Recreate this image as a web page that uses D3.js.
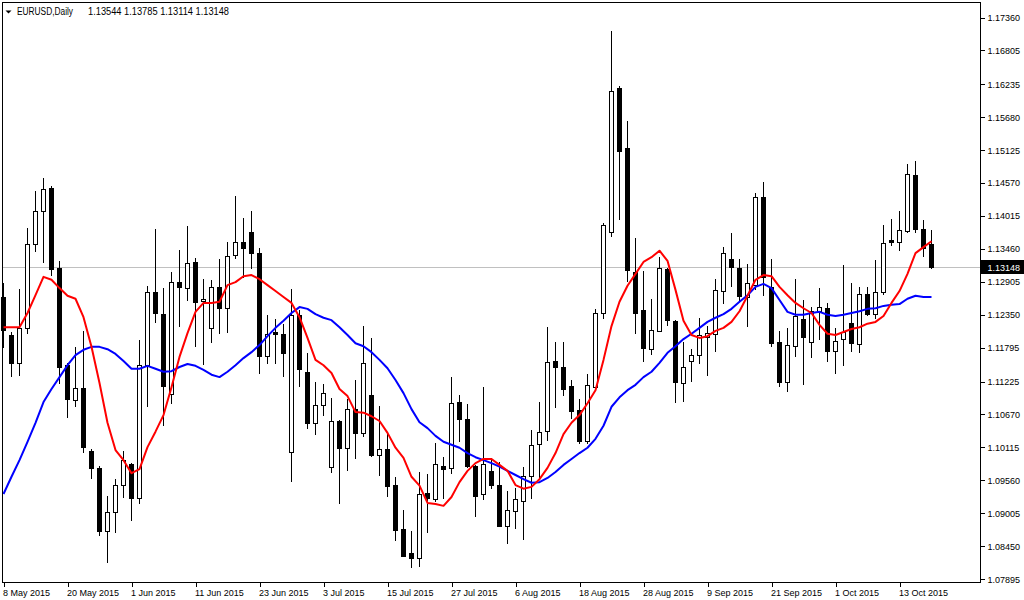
<!DOCTYPE html>
<html><head><meta charset="utf-8">
<script src="https://cdn.jsdelivr.net/npm/d3@7"></script>
<style>
body{margin:0;background:#fff;}
svg{display:block;}
text{font-family:"Liberation Sans",Arial,sans-serif;font-size:9px;fill:#000;}
</style>
</head><body>
<svg id="chart" width="1024" height="600"></svg>
<script>
const symbolName = "EURUSD,Daily";

const opens = [
1.1265,1.1201,1.1154,1.1213,1.1354,1.1410,1.1449,1.1314,1.1150,1.1091,
1.1112,1.1005,1.0977,1.0871,1.0903,1.0948,1.0984,1.0926,1.1150,1.1273,
1.1236,1.1102,1.1290,1.1280,1.1324,1.1258,1.1213,1.1282,1.1246,1.1336,
1.1358,1.1375,1.1339,1.1166,1.1206,1.1203,1.1004,1.1235,1.1139,1.1053,
1.1083,1.0979,1.1056,1.1011,1.1076,1.1036,1.1100,1.0999,1.1009,1.0948,
1.0874,1.0834,1.0825,1.0935,1.0925,1.0980,1.0977,1.1088,1.1059,1.0980,
1.0933,1.0972,1.0948,1.0879,1.0904,1.0921,1.0963,1.1017,1.1039,1.1157,
1.1147,1.1115,1.1075,1.1022,1.1113,1.1238,1.1375,1.1617,1.1516,1.1307,
1.1243,1.1177,1.1208,1.1312,1.1225,1.1120,1.1157,1.1167,1.1198,1.1203,
1.1275,1.1329,1.1314,1.1265,1.1285,1.1434,1.1282,1.1189,1.1122,1.1182,
1.1228,1.1189,1.1241,1.1246,1.1174,1.1194,1.1221,1.1186,1.1270,1.1236,
1.1273,1.1361,1.1358,1.1376,1.1471,1.1380,1.13544];

const highs = [
1.1289,1.1206,1.1279,1.1381,1.1444,1.1466,1.1452,1.1326,1.1154,1.1181,
1.1208,1.1009,1.0980,1.0930,1.0958,1.1005,1.0985,1.1193,1.1284,1.1380,
1.1280,1.1307,1.1344,1.1385,1.1331,1.1295,1.1294,1.1329,1.1358,1.1435,
1.1398,1.1410,1.1348,1.1235,1.1228,1.1220,1.1279,1.1243,1.1171,1.1122,
1.1118,1.1095,1.1058,1.1093,1.1125,1.1216,1.1196,1.1081,1.1036,1.0962,
1.0906,1.0871,1.0970,1.0967,1.1019,1.0995,1.1130,1.1100,1.1085,1.0982,
1.1113,1.0994,1.0987,1.0938,1.0943,1.0979,1.1041,1.1088,1.1214,1.1189,
1.1189,1.1125,1.1093,1.1135,1.1245,1.1390,1.1713,1.1621,1.1562,1.1365,
1.1309,1.1262,1.1332,1.1314,1.1226,1.1189,1.1177,1.1230,1.1216,1.1295,
1.1349,1.1373,1.1329,1.1321,1.1440,1.1459,1.1329,1.1208,1.1213,1.1295,
1.1260,1.1248,1.1280,1.1255,1.1213,1.1319,1.1289,1.1282,1.1282,1.1327,
1.1386,1.1397,1.1410,1.1489,1.1494,1.1395,1.13785];

const lows = [
1.1179,1.1130,1.1132,1.1203,1.1341,1.1322,1.1300,1.1118,1.1061,1.1080,
1.1002,1.0958,1.0862,1.0817,1.0867,1.0926,1.0888,1.0916,1.1080,1.1221,
1.1048,1.1085,1.1214,1.1258,1.1181,1.1150,1.1187,1.1203,1.1204,1.1329,
1.1297,1.1312,1.1135,1.1152,1.1152,1.1130,1.0953,1.1113,1.1043,1.1032,
1.1064,1.0968,1.0916,1.0972,1.0992,1.1029,1.0995,1.0963,1.0928,1.0854,
1.0827,1.0808,1.0810,1.0867,1.0920,1.0925,1.0967,1.1021,1.0977,1.0894,
1.0923,1.0942,1.0877,1.0849,1.0874,1.0856,1.0925,1.0957,1.1022,1.1078,
1.1098,1.1059,1.1017,1.1017,1.1110,1.1228,1.1366,1.1395,1.1290,1.1203,
1.1155,1.1167,1.1207,1.1216,1.1086,1.1088,1.1122,1.1152,1.1132,1.1172,
1.1253,1.1282,1.1258,1.1214,1.1277,1.1267,1.1181,1.1113,1.1105,1.1164,
1.1117,1.1162,1.1193,1.1155,1.1135,1.1149,1.1172,1.1171,1.1233,1.1228,
1.1268,1.1351,1.1343,1.1373,1.1373,1.1332,1.13114];

const closes = [
1.1209,1.1154,1.1213,1.1354,1.1410,1.1447,1.1312,1.1147,1.1093,1.1112,
1.1012,1.0977,1.0871,1.0903,1.0948,1.0990,1.0926,1.1150,1.1273,1.1238,
1.1115,1.1290,1.1282,1.1322,1.1257,1.1262,1.1282,1.1246,1.1334,1.1358,
1.1348,1.1339,1.1166,1.1203,1.1203,1.1171,1.1235,1.1144,1.1053,1.1083,
1.1103,1.1056,1.1011,1.1076,1.1036,1.1154,1.0999,1.1009,1.0947,1.0872,
1.0829,1.0825,1.0933,1.0926,1.0984,1.0975,1.1086,1.1059,1.0980,1.0930,
1.0984,1.0948,1.0879,1.0906,1.0925,1.0963,1.1016,1.1038,1.1155,1.1147,
1.1110,1.1073,1.1022,1.1117,1.1238,1.1386,1.1612,1.1511,1.1311,1.1238,
1.1179,1.1209,1.1314,1.1226,1.1122,1.1147,1.1167,1.1201,1.1204,1.1277,
1.1339,1.1316,1.1267,1.1289,1.1434,1.1299,1.1187,1.1122,1.1184,1.1233,
1.1198,1.1241,1.1248,1.1174,1.1191,1.1206,1.1187,1.1270,1.1236,1.1273,
1.1356,1.1358,1.1378,1.1472,1.1380,1.1348,1.13148];

const maRed = [
1.1214,1.1214,1.1214,1.1238,1.1268,1.1299,1.1294,1.1280,1.1267,1.1262,
1.1231,1.1181,1.1120,1.1053,1.1007,1.0990,1.0968,1.0975,1.1012,1.1038,
1.1066,1.1113,1.1164,1.1204,1.1240,1.1255,1.1255,1.1257,1.1285,1.1290,
1.1300,1.1302,1.1295,1.1285,1.1275,1.1265,1.1255,1.1231,1.1196,1.1159,
1.1150,1.1137,1.1110,1.1098,1.1071,1.1070,1.1064,1.1056,1.1036,1.1011,
1.0994,1.0962,1.0947,1.0918,1.0916,1.0913,1.0928,1.0953,1.0972,1.0985,
1.0992,1.0992,1.0982,1.0972,1.0948,1.0942,1.0945,1.0958,1.0977,1.1002,
1.1034,1.1053,1.1066,1.1086,1.1108,1.1159,1.1216,1.1257,1.1284,1.1304,
1.1324,1.1332,1.1343,1.1326,1.1277,1.1225,1.1201,1.1196,1.1199,1.1208,
1.1213,1.1223,1.1241,1.1267,1.1294,1.1302,1.1300,1.1282,1.1268,1.1255,
1.1246,1.1238,1.1218,1.1203,1.1201,1.1206,1.1211,1.1214,1.1220,1.1223,
1.1233,1.1255,1.1275,1.1304,1.1339,1.1349,1.1359];

const maBlue = [
1.0933,1.0962,1.0990,1.1021,1.1053,1.1088,1.1110,1.1130,1.1150,1.1167,
1.1176,1.1181,1.1181,1.1177,1.1169,1.1157,1.1144,1.1144,1.1149,1.1144,
1.1139,1.1140,1.1147,1.1152,1.1149,1.1142,1.1134,1.1130,1.1139,1.1150,
1.1162,1.1172,1.1184,1.1199,1.1213,1.1225,1.1238,1.1248,1.1245,1.1236,
1.1230,1.1226,1.1214,1.1201,1.1187,1.1182,1.1172,1.1159,1.1145,1.1125,
1.1103,1.1076,1.1054,1.1044,1.1031,1.1021,1.1016,1.1011,1.1002,1.0995,
1.0990,1.0985,1.0979,1.0972,1.0965,1.0958,1.0952,1.0953,1.0960,1.0970,
1.0982,1.0992,1.1002,1.1011,1.1026,1.1048,1.1080,1.1096,1.1108,1.1117,
1.1130,1.1139,1.1154,1.1171,1.1182,1.1194,1.1203,1.1213,1.1223,1.1230,
1.1236,1.1245,1.1257,1.1268,1.1282,1.1287,1.1280,1.1260,1.1240,1.1235,
1.1235,1.1238,1.1240,1.1235,1.1233,1.1235,1.1238,1.1241,1.1245,1.1246,
1.1250,1.1252,1.1253,1.1262,1.1267,1.1265,1.1265];

const dateLabels = ["8 May 2015","20 May 2015","1 Jun 2015","11 Jun 2015","23 Jun 2015","3 Jul 2015",
  "15 Jul 2015","27 Jul 2015","6 Aug 2015","18 Aug 2015","28 Aug 2015","9 Sep 2015",
  "21 Sep 2015","1 Oct 2015","13 Oct 2015"];
const dateLabelBars = [0,8,16,24,32,40,48,56,64,72,80,88,96,104,112];

const priceTicks = [1.17360,1.16805,1.16235,1.15680,1.15125,1.14570,1.14015,1.13460,1.12905,
  1.12350,1.11795,1.11225,1.10670,1.10115,1.09560,1.09005,1.08450,1.07895];

const bars = opens.map((o,i)=>({i, o, h:highs[i], l:lows[i], c:closes[i]}));
const n = bars.length;

const svg = d3.select("#chart");
svg.append("rect").attr("width",1024).attr("height",600).attr("fill","#fff");

const x = d3.scaleLinear().domain([0, n-1]).range([3.5, 3.5 + 8*(n-1)]);
const y = d3.scaleLinear().domain([1.07895, 1.17360]).range([579.15, 17.5]);

// current price line
const last = bars[n-1];
const yc = Math.round(y(last.c)) + 0.5;
svg.append("line").attr("x1",2.5).attr("x2",980.5).attr("y1",yc).attr("y2",yc)
  .attr("stroke","#c0c0c0").attr("stroke-width",1).attr("shape-rendering","crispEdges");

// candles
const g = svg.append("g").attr("shape-rendering","crispEdges");
g.selectAll("line.w").data(bars).join("line").attr("class","w")
  .attr("x1",d=>x(d.i)).attr("x2",d=>x(d.i))
  .attr("y1",d=>y(d.h)).attr("y2",d=>y(d.l))
  .attr("stroke","#000").attr("stroke-width",1);
g.selectAll("rect.b").data(bars).join("rect").attr("class","b")
  .attr("x",d=>x(d.i)-2)
  .attr("width",4)
  .attr("y",d=>Math.round(y(Math.max(d.o,d.c)))+0.5)
  .attr("height",d=>Math.max(1, Math.round(y(Math.min(d.o,d.c))) - Math.round(y(Math.max(d.o,d.c)))))
  .attr("fill",d=>d.c>=d.o ? "#fff" : "#000")
  .attr("stroke","#000").attr("stroke-width",1);

// moving averages
const line = d3.line().x((d,i)=>x(i)).y(d=>y(d));
svg.append("path").datum(maBlue).attr("d",line).attr("fill","none")
  .attr("stroke","#0000ff").attr("stroke-width",2).attr("stroke-linejoin","round");
svg.append("path").datum(maRed).attr("d",line).attr("fill","none")
  .attr("stroke","#ff0000").attr("stroke-width",2).attr("stroke-linejoin","round");

// frame
svg.append("rect").attr("x",2.5).attr("y",2.5).attr("width",978).attr("height",580)
  .attr("fill","none").attr("stroke","#000").attr("stroke-width",1).attr("shape-rendering","crispEdges");

// right price axis
const ay = svg.append("g").attr("transform","translate(980.5,0)")
  .call(d3.axisRight(y).tickValues(priceTicks).tickSize(4).tickPadding(3).tickFormat(d3.format(".5f")));
ay.select(".domain").remove();
ay.attr("font-family",null).attr("font-size",null);
ay.selectAll(".tick line").attr("stroke","#000").attr("shape-rendering","crispEdges");
ay.selectAll(".tick text").attr("fill","#000");

// current price tag
svg.append("rect").attr("x",981).attr("y",yc-7.5).attr("width",43).attr("height",14).attr("fill","#000");
svg.append("text").attr("x",987.5).attr("y",yc).attr("dy","0.35em").style("fill","#fff")
  .text(d3.format(".5f")(last.c));

// bottom time axis
const ax = svg.append("g").attr("transform","translate(0,582.5)")
  .call(d3.axisBottom(x).tickValues(dateLabelBars).tickSize(4).tickPadding(3)
    .tickFormat((d,i)=>dateLabels[i]));
ax.select(".domain").remove();
ax.attr("font-family",null).attr("font-size",null);
ax.selectAll(".tick line").attr("stroke","#000").attr("shape-rendering","crispEdges");
ax.selectAll(".tick text").attr("text-anchor","start").attr("dx",-1).attr("fill","#000");

// header
svg.append("path").attr("d","M5.5,10.5 L11.5,10.5 L8.5,13.5 Z").attr("fill","#000");
svg.append("text").attr("x",17).attr("y",15).style("font-size","10px")
  .attr("textLength",56).attr("lengthAdjust","spacingAndGlyphs").text(symbolName);
svg.append("text").attr("x",88).attr("y",15).style("font-size","10px")
  .attr("textLength",141).attr("lengthAdjust","spacingAndGlyphs")
  .text([last.o,last.h,last.l,last.c].map(d3.format(".5f")).join(" "));
</script>
</body></html>
